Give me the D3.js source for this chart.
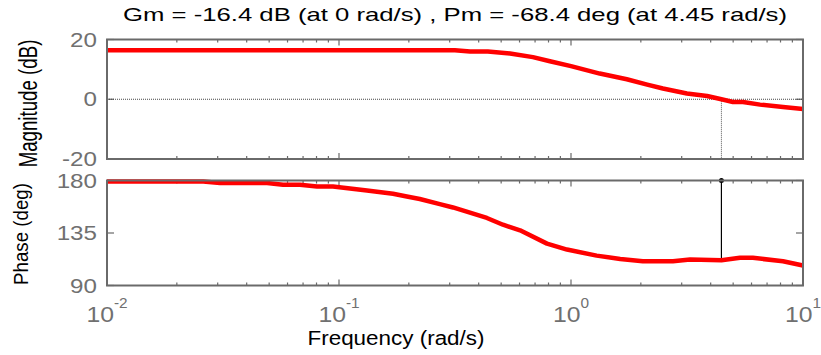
<!DOCTYPE html>
<html>
<head>
<meta charset="utf-8">
<script src="https://cdn.jsdelivr.net/npm/d3@7/dist/d3.min.js"></script>
<style>
  body { margin: 0; background: #fff; }
  text { font-family: "Liberation Sans", Arial, sans-serif; }
</style>
</head>
<body>
<svg id="chart" width="821" height="355"></svg>
<script>
// Bode data
const magFreq = [0.01, 0.316, 0.367, 0.438, 0.546, 0.685, 0.811, 1.0, 1.33, 1.74, 2.13, 2.49, 3.16, 3.86, 4.45, 4.99, 5.51, 6.53, 8.2, 10];
const magDb = [16.4, 16.4, 16.0, 16.0, 15.3, 14.1, 12.7, 11.1, 8.6, 6.7, 4.9, 3.6, 1.9, 1.1, 0, -0.9, -0.9, -1.8, -2.6, -3.3];

const phaseFreq = [0.01, 0.026, 0.0307, 0.049, 0.0574, 0.0679, 0.0804, 0.0942, 0.132, 0.171, 0.196, 0.223, 0.272, 0.310, 0.434, 0.509, 0.603, 0.788, 0.961, 1.29, 1.63, 2.04, 2.75, 3.26, 4.45, 5.35, 6.08, 8.2, 10];
const phaseDeg = [179.1, 179.1, 177.8, 177.8, 176.3, 176.3, 174.9, 174.9, 171.5, 168.6, 166.3, 164.1, 159.8, 156.9, 147.9, 142.1, 137.3, 125.9, 120.8, 115.6, 112.8, 110.8, 110.8, 112.2, 111.6, 113.7, 113.7, 110.8, 107.1];

const magTicks = [-20, 0, 20];
const phaseTicks = [90, 135, 180];
const decadeTicks = [0.01, 0.1, 1, 10];
const decadeExp = ["-2", "-1", "0", "1"];

const crossFreq = 4.45;   // Pm frequency
const crossPhase = 111.6; // 180 - 68.4
const titleText = "Gm = -16.4 dB (at 0 rad/s) ,  Pm = -68.4 deg (at 4.45 rad/s)";

const svg = d3.select("#chart");
const grey = "#6a6a6a";

// Scales
const x = d3.scaleLog().domain([0.01, 10]).range([107, 803]);
const yMag = d3.scaleLinear().domain([-20, 20]).range([159, 39.5]);
const yPh = d3.scaleLinear().domain([90, 180]).range([285.5, 180.5]);

const minorTicks = x.ticks().filter(t => !decadeTicks.some(d => Math.abs(d - t) < 1e-9));

// Draw one axes box with inward ticks
function drawPanel(y, yTicks) {
    const [y0, y1] = y.range();   // bottom, top
    const g = svg.append("g");

    // minor x ticks, top and bottom
    g.selectAll(".mnb").data(minorTicks).enter().append("line")
        .attr("x1", d => x(d)).attr("x2", d => x(d))
        .attr("y1", y0).attr("y2", y0 - 3)
        .attr("stroke", grey).attr("stroke-width", 1.2);
    g.selectAll(".mnt").data(minorTicks).enter().append("line")
        .attr("x1", d => x(d)).attr("x2", d => x(d))
        .attr("y1", y1).attr("y2", y1 + 3)
        .attr("stroke", grey).attr("stroke-width", 1.2);
    // decade ticks
    g.selectAll(".mjb").data(decadeTicks).enter().append("line")
        .attr("x1", d => x(d)).attr("x2", d => x(d))
        .attr("y1", y0).attr("y2", y0 - 6)
        .attr("stroke", grey).attr("stroke-width", 1.2);
    g.selectAll(".mjt").data(decadeTicks).enter().append("line")
        .attr("x1", d => x(d)).attr("x2", d => x(d))
        .attr("y1", y1).attr("y2", y1 + 6)
        .attr("stroke", grey).attr("stroke-width", 1.2);

    // y ticks, left and right
    g.selectAll(".yl").data(yTicks).enter().append("line")
        .attr("x1", 107).attr("x2", 114)
        .attr("y1", d => y(d)).attr("y2", d => y(d))
        .attr("stroke", grey).attr("stroke-width", 1.2);
    g.selectAll(".yr").data(yTicks).enter().append("line")
        .attr("x1", 803).attr("x2", 796)
        .attr("y1", d => y(d)).attr("y2", d => y(d))
        .attr("stroke", grey).attr("stroke-width", 1.2);

    // y tick labels
    g.selectAll(".ylab").data(yTicks).enter().append("text")
        .attr("transform", d => `translate(97,${y(d)}) scale(1.24,1)`)
        .attr("text-anchor", "end")
        .attr("dy", "0.36em")
        .style("font-size", "19.5px")
        .attr("fill", "#707070")
        .text(d => d);

    return g;
}

const gMag = drawPanel(yMag, magTicks);
const gPh = drawPanel(yPh, phaseTicks);

// zero dB dotted line
svg.append("line")
    .attr("x1", x(0.01)).attr("x2", x(10))
    .attr("y1", yMag(0)).attr("y2", yMag(0))
    .attr("stroke", "#444").attr("stroke-width", 1)
    .attr("stroke-dasharray", "1,1");

// crossover dotted line in magnitude panel
svg.append("line")
    .attr("x1", x(crossFreq)).attr("x2", x(crossFreq))
    .attr("y1", yMag(0)).attr("y2", yMag(-20))
    .attr("stroke", "#555").attr("stroke-width", 1)
    .attr("stroke-dasharray", "1,1");

// phase margin line
svg.append("line")
    .attr("x1", x(crossFreq)).attr("x2", x(crossFreq))
    .attr("y1", yPh(180)).attr("y2", yPh(crossPhase))
    .attr("stroke", "#000").attr("stroke-width", 1.2);
svg.append("circle")
    .attr("cx", x(crossFreq)).attr("cy", yPh(180))
    .attr("r", 2.5).attr("fill", "#000");

// curves
const magLine = d3.line().x((d, i) => x(magFreq[i])).y(d => yMag(d));
const phLine = d3.line().x((d, i) => x(phaseFreq[i])).y(d => yPh(d));

svg.append("path").datum(magDb)
    .attr("d", magLine)
    .attr("fill", "none").attr("stroke", "#ff0000")
    .attr("stroke-width", 4.5).attr("stroke-linejoin", "round");
svg.append("path").datum(phaseDeg)
    .attr("d", phLine)
    .attr("fill", "none").attr("stroke", "#ff0000")
    .attr("stroke-width", 4.5).attr("stroke-linejoin", "round");

// box outlines (drawn last, over curve ends)
[yMag, yPh].forEach(y => {
    const [y0, y1] = y.range();
    svg.append("rect")
        .attr("x", 107).attr("y", y1)
        .attr("width", 803 - 107).attr("height", y0 - y1)
        .attr("fill", "none").attr("stroke", grey).attr("stroke-width", 2);
});

// x tick labels: 10^n
const xl = svg.selectAll(".xlab").data(decadeTicks).enter().append("text")
    .attr("transform", d => `translate(${x(d)},322) scale(1.1,1)`)
    .attr("text-anchor", "middle")
    .style("font-size", "22.5px")
    .attr("fill", "#707070");
xl.append("tspan").text("10");
xl.append("tspan")
    .attr("dy", -14)
    .style("font-size", "14px")
    .text((d, i) => decadeExp[i]);

// title
svg.append("text")
    .attr("x", 455).attr("y", 21)
    .attr("text-anchor", "middle")
    .attr("textLength", 664).attr("lengthAdjust", "spacingAndGlyphs")
    .style("font-size", "18.6px")
    .attr("fill", "#000")
    .text(titleText);

// x label
svg.append("text")
    .attr("x", 396).attr("y", 345)
    .attr("text-anchor", "middle")
    .attr("textLength", 177).attr("lengthAdjust", "spacingAndGlyphs")
    .style("font-size", "20px")
    .attr("fill", "#000")
    .text("Frequency (rad/s)");

// y labels
svg.append("text")
    .attr("transform", "translate(37,103.5) scale(1.37,1) rotate(-90)")
    .attr("text-anchor", "middle")
    .style("font-size", "18.7px")
    .attr("fill", "#000")
    .text("Magnitude (dB)");
svg.append("text")
    .attr("transform", "translate(28,234) scale(1.12,1) rotate(-90)")
    .attr("text-anchor", "middle")
    .style("font-size", "18.7px")
    .attr("fill", "#000")
    .text("Phase (deg)");
</script>
</body>
</html>
